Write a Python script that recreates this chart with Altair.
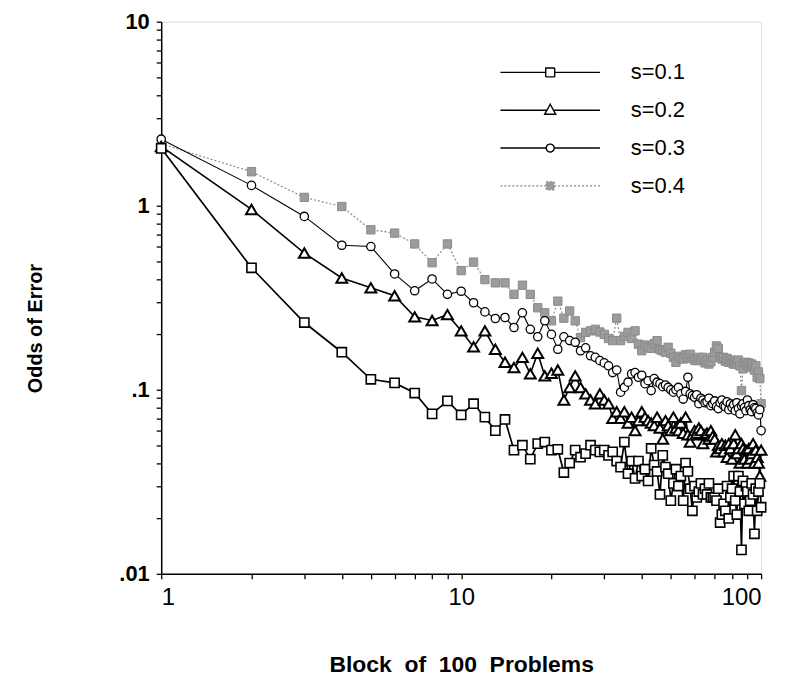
import altair as alt
import pandas as pd

blocks = list(range(1, 101))
series_names = ["s=0.1", "s=0.2", "s=0.3", "s=0.4"]

s01 = [2.05, 0.46, 0.232, 0.160, 0.114, 0.109, 0.096, 0.074, 0.087, 0.073,
       0.084, 0.071, 0.060, 0.069, 0.047, 0.050, 0.042, 0.051, 0.052, 0.047,
       0.0475, 0.0355, 0.040, 0.047, 0.043, 0.045, 0.050, 0.047, 0.046, 0.047,
       0.044, 0.046, 0.041, 0.038, 0.052, 0.035, 0.041, 0.033, 0.041, 0.034,
       0.037, 0.032, 0.048, 0.039, 0.036, 0.027, 0.044, 0.038, 0.035, 0.025,
       0.031, 0.037, 0.030, 0.034, 0.025, 0.040, 0.036, 0.029, 0.022, 0.030,
       0.026, 0.028, 0.031, 0.027, 0.029, 0.027, 0.031, 0.026, 0.026, 0.026,
       0.025, 0.029, 0.019, 0.021, 0.024, 0.022, 0.030, 0.020, 0.026, 0.029,
       0.034, 0.025, 0.021, 0.034, 0.028, 0.0135, 0.032, 0.024, 0.030, 0.028,
       0.022, 0.025, 0.031, 0.027, 0.0165, 0.029, 0.022, 0.028, 0.031, 0.023]

s02 = [2.1, 0.955, 0.553, 0.405, 0.358, 0.324, 0.249, 0.238, 0.256, 0.209,
       0.171, 0.209, 0.166, 0.141, 0.132, 0.150, 0.122, 0.158, 0.119, 0.123,
       0.128, 0.088, 0.103, 0.119, 0.103, 0.095, 0.088, 0.084, 0.095, 0.088,
       0.084, 0.070, 0.076, 0.070, 0.076, 0.066, 0.071, 0.060, 0.068, 0.076,
       0.071, 0.068, 0.066, 0.064, 0.071, 0.062, 0.054, 0.068, 0.064, 0.060,
       0.071, 0.062, 0.060, 0.066, 0.058, 0.071, 0.057, 0.052, 0.057, 0.060,
       0.058, 0.062, 0.060, 0.051, 0.057, 0.058, 0.054, 0.060, 0.056, 0.054,
       0.046, 0.050, 0.048, 0.051, 0.046, 0.050, 0.043, 0.051, 0.048, 0.042,
       0.051, 0.057, 0.045, 0.048, 0.040, 0.051, 0.048, 0.042, 0.047, 0.040,
       0.048, 0.042, 0.045, 0.051, 0.040, 0.047, 0.043, 0.040, 0.034, 0.047]

s03 = [2.3, 1.29, 0.875, 0.61, 0.60, 0.426, 0.345, 0.40, 0.33, 0.343,
       0.297, 0.265, 0.244, 0.247, 0.218, 0.262, 0.213, 0.194, 0.237, 0.200,
       0.166, 0.194, 0.185, 0.181, 0.163, 0.169, 0.153, 0.150, 0.144, 0.140,
       0.135, 0.124, 0.128, 0.097, 0.103, 0.110, 0.122, 0.124, 0.117, 0.120,
       0.108, 0.112, 0.099, 0.115, 0.110, 0.108, 0.104, 0.106, 0.103, 0.100,
       0.097, 0.100, 0.103, 0.095, 0.089, 0.098, 0.117, 0.095, 0.093, 0.091,
       0.094, 0.084, 0.090, 0.088, 0.085, 0.086, 0.090, 0.082, 0.084, 0.087,
       0.081, 0.079, 0.085, 0.088, 0.082, 0.081, 0.086, 0.078, 0.084, 0.080,
       0.083, 0.077, 0.085, 0.079, 0.074, 0.082, 0.084, 0.080, 0.077, 0.088,
       0.082, 0.078, 0.076, 0.083, 0.080, 0.079, 0.075, 0.073, 0.078, 0.060]

s04 = [2.17, 1.53, 1.11, 0.99, 0.74, 0.71, 0.62, 0.49, 0.62, 0.444,
       0.494, 0.397, 0.381, 0.381, 0.330, 0.370, 0.330, 0.279, 0.262, 0.237,
       0.303, 0.245, 0.268, 0.237, 0.192, 0.205, 0.209, 0.213, 0.206, 0.200,
       0.190, 0.185, 0.245, 0.185, 0.195, 0.205, 0.190, 0.209, 0.177, 0.163,
       0.175, 0.170, 0.168, 0.178, 0.185, 0.165, 0.163, 0.160, 0.170, 0.158,
       0.150, 0.141, 0.152, 0.148, 0.147, 0.155, 0.150, 0.156, 0.148, 0.145,
       0.144, 0.150, 0.146, 0.150, 0.140, 0.145, 0.138, 0.142, 0.150, 0.160,
       0.173, 0.168, 0.150, 0.147, 0.150, 0.143, 0.148, 0.141, 0.145, 0.140,
       0.138, 0.142, 0.138, 0.145, 0.135, 0.099, 0.130, 0.140, 0.141, 0.136,
       0.140, 0.133, 0.138, 0.132, 0.128, 0.135, 0.117, 0.125, 0.115, 0.084]

x_tick_values = [1, 2, 3, 4, 5, 6, 7, 8, 9, 10, 20, 30, 40, 50, 60, 70, 80, 90, 100]
y_tick_values = [0.01, 0.02, 0.03, 0.04, 0.05, 0.06, 0.07, 0.08, 0.09,
                 0.1, 0.2, 0.3, 0.4, 0.5, 0.6, 0.7, 0.8, 0.9,
                 1, 2, 3, 4, 5, 6, 7, 8, 9, 10]

rows = []
for name, vals in zip(series_names, [s01, s02, s03, s04]):
    for b, v in zip(blocks, vals):
        rows.append({"block": b, "odds": v, "series": name})
df = pd.DataFrame(rows)

FONT = "Liberation Sans"
NB = "\u00a0"

x_enc = alt.X("block:Q",
              scale=alt.Scale(type="log", domain=[1, 100], nice=False),
              axis=alt.Axis(values=x_tick_values,
                            labelExpr="datum.value == 1 ? '1' : datum.value == 10 ? '10' : datum.value == 100 ? '100' : ''",
                            title=f"Block{NB} of{NB} 100{NB} Problems",
                            titleFont=FONT, titleFontSize=23, titleFontWeight="bold",
                            titleBaseline="alphabetic", titleY=98,
                            labelFont=FONT, labelFontSize=24, labelPadding=7,
                            tickSize=5, tickWidth=1.3, tickColor="black",
                            domainColor="black", domainWidth=1.5,
                            labelColor="black", titleColor="black",
                            grid=False, labelOverlap=False))
y_enc = alt.Y("odds:Q",
              scale=alt.Scale(type="log", domain=[0.01, 10], nice=False),
              axis=alt.Axis(values=y_tick_values,
                            labelExpr="datum.value == 10 ? '10' : datum.value == 1 ? '1' : datum.value == 0.1 ? '.1' : datum.value == 0.01 ? '.01' : ''",
                            title="Odds of Error",
                            titleFont=FONT, titleFontSize=20, titleFontWeight="bold",
                            titleAngle=-90, titleBaseline="middle", titleAlign="center",
                            titleX=-126, titleY=308,
                            labelFont=FONT, labelFontSize=22, labelFontWeight="bold",
                            labelPadding=7,
                            tickSize=5, tickWidth=1.3, tickColor="black",
                            domainColor="black", domainWidth=1.5,
                            labelColor="black", titleColor="black",
                            grid=False, labelOverlap=False))

line_styles = {
    "s=0.1": dict(color="black", strokeWidth=1.7),
    "s=0.2": dict(color="black", strokeWidth=1.6),
    "s=0.3": dict(color="black", strokeWidth=1.1),
    "s=0.4": dict(color="#8a8a8a", strokeWidth=1.2, strokeDash=[2, 2]),
}
point_styles = {
    "s=0.1": dict(shape="square", size=85, fill="white", stroke="black", strokeWidth=1.6),
    "s=0.2": dict(shape="triangle-up", size=120, fill="white", stroke="black", strokeWidth=2.0),
    "s=0.3": dict(shape="circle", size=70, fill="white", stroke="black", strokeWidth=1.3),
    "s=0.4": dict(shape="square", size=70, fill="#9c9c9c", stroke="#8a8a8a", strokeWidth=1.0),
}

layers = []
draw_order = ["s=0.4", "s=0.3", "s=0.2", "s=0.1"]
for name in draw_order:
    sub = alt.Chart(df).transform_filter(alt.datum.series == name)
    layers.append(sub.mark_line(**line_styles[name]).encode(x=x_enc, y=y_enc))
    layers.append(sub.mark_point(filled=True, opacity=1, **point_styles[name]).encode(x=x_enc, y=y_enc))

# legend-only layer (line + marker glyphs)
legend_paths = [
    "M-10,0H-0.9M0.9,0H10M-0.9,-0.9H0.9V0.9H-0.9Z",
    "M-10,0H-0.7M0.7,0H10M0,-1.2L1.1,0.8H-1.1Z",
    "M-10,0H-0.8M0.8,0H10M0.8,0A0.8,0.8,0,1,1,-0.8,0A0.8,0.8,0,1,1,0.8,0Z",
    "M-10,0H-0.8M0.8,0H10M-0.8,-0.8H0.8V0.8H-0.8Z",
]
leg = alt.Legend(title=None, orient="none", legendX=380, legendY=40,
                 symbolSize=100, symbolStrokeWidth=1.4, symbolOpacity=1,
                 labelFont=FONT, labelFontSize=22, labelColor="black",
                 labelOffset=70, rowPadding=16, padding=0)
legend_layer = alt.Chart(df).transform_filter("false").mark_point(filled=True).encode(
    x=x_enc, y=y_enc,
    shape=alt.Shape("series:N", scale=alt.Scale(domain=series_names, range=legend_paths), legend=leg),
    fill=alt.Fill("series:N", scale=alt.Scale(domain=series_names, range=["white", "white", "white", "#9c9c9c"]), legend=leg),
    stroke=alt.Stroke("series:N", scale=alt.Scale(domain=series_names, range=["black", "black", "black", "#8a8a8a"]), legend=leg),
    strokeDash=alt.StrokeDash("series:N", scale=alt.Scale(domain=series_names, range=[[1, 0], [1, 0], [1, 0], [2, 2]]), legend=leg),
)
layers.append(legend_layer)

chart = alt.layer(*layers).properties(
    width=603, height=555,
    autosize=alt.AutoSizeParams(type="none"),
    padding={"left": 154, "top": 12, "right": 22, "bottom": 112},
).configure_view(stroke="black", strokeWidth=1.5).configure(background="white")

chart.save("out.html", embed_options={"renderer": "svg", "actions": False})
